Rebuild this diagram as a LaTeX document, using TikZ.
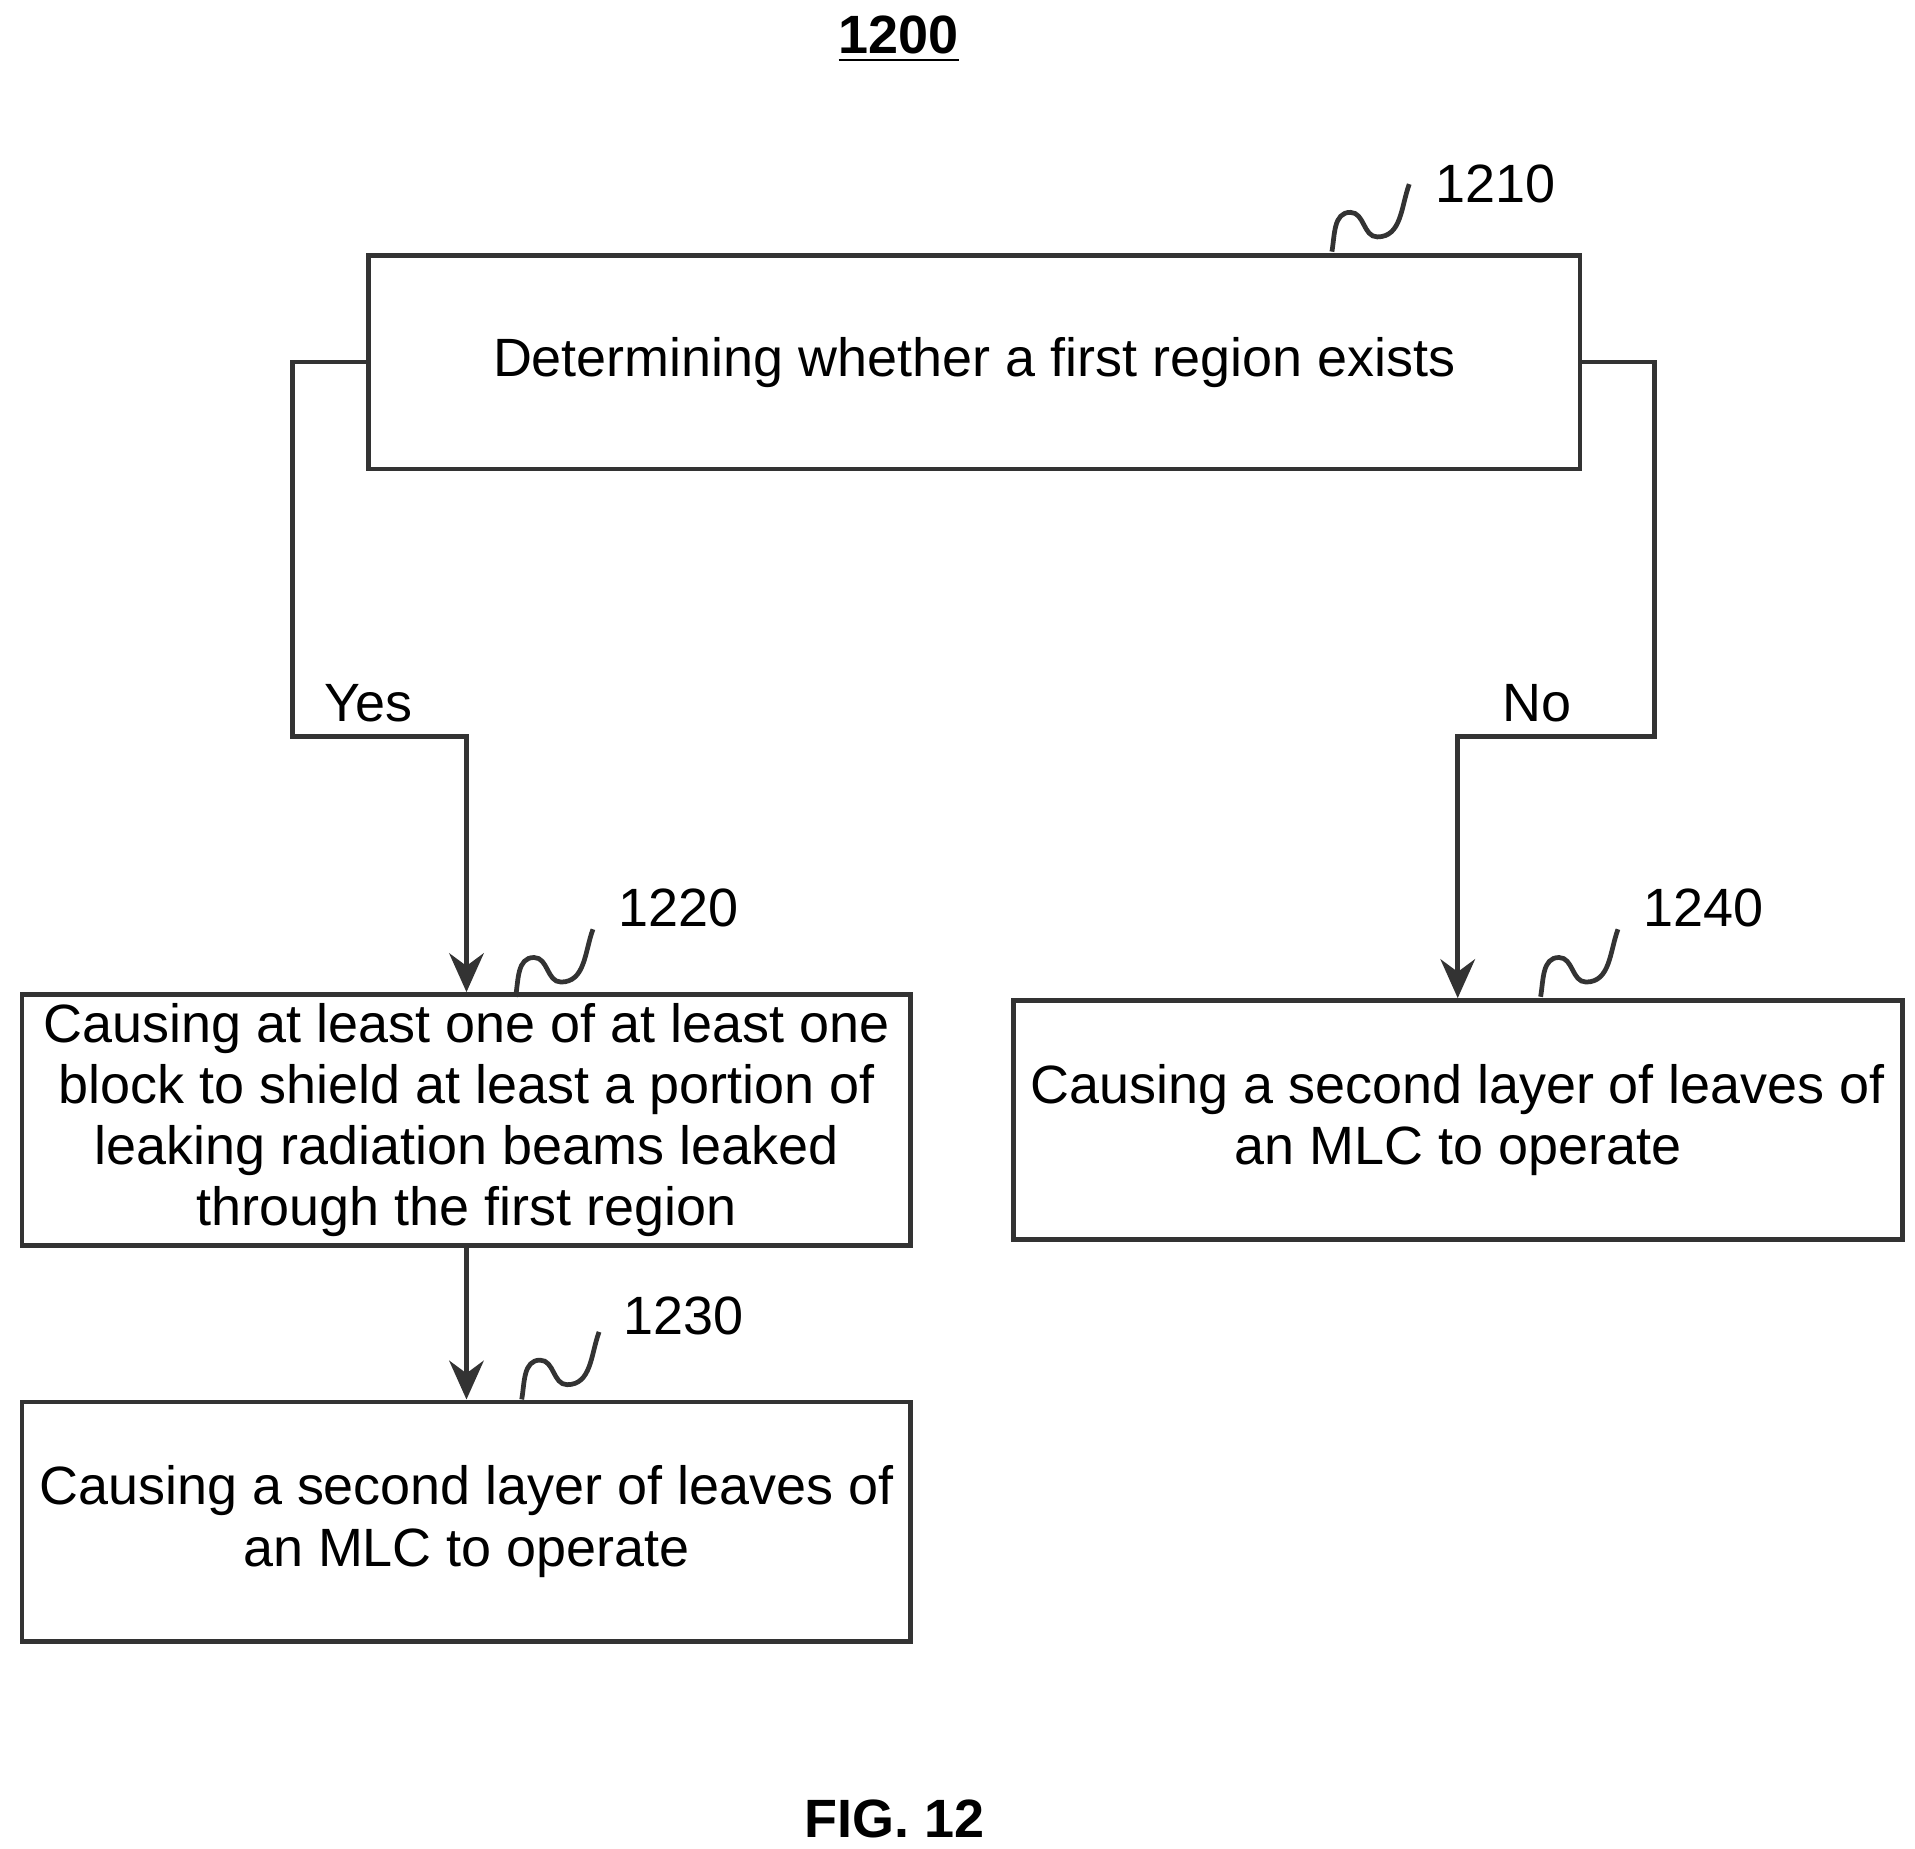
\documentclass[tikz,border=0pt]{standalone}
\usepackage{fontspec}
\setmainfont{Liberation Sans}
\usetikzlibrary{arrows.meta}
\tikzset{
  stepbox/.style={draw=black!80, line width=1.1pt, minimum width=7.24cm, minimum height=1.95cm, align=center, inner sep=2pt, font=\fontsize{12.5}{14.2}\selectfont},
  flow/.style={draw=black!80, line width=1.1pt},
  lab/.style={font=\fontsize{12.5}{14}\selectfont},
  squig/.pic={\draw[black!80, line width=1.1pt] (0,0) to[out=80,in=180] (15,-32) to[out=0,in=180] (37,-12) to[out=0,in=-110] (63,-55);}
}
\begin{document}
\begin{tikzpicture}[x=0.1mm,y=-0.1mm]
  \useasboundingbox (0,0) rectangle (1560,1506);
  \node[font=\bfseries\fontsize{12.5}{14}\selectfont] (title) at (732,32) {\underline{1200}};
  \node[stepbox, minimum width=9.87cm, minimum height=1.74cm] (s1210) at (793.5,295) {Determining whether a first region exists};
  \node[stepbox] (s1220) at (380,912.5) {Causing at least one of at least one\\block to shield at least a portion of\\leaking radiation beams leaked\\through the first region};
  \node[stepbox] (s1230) at (380,1239.5) {Causing a second layer of leaves of\\an MLC to operate};
  \node[stepbox] (s1240) at (1187.5,912.5) {Causing a second layer of leaves of\\an MLC to operate};
  % connectors
  \draw[flow, -{Stealth[length=9pt,width=8pt]}] (s1210.west) -| (238,600) -| (s1220.north);
  \draw[flow, -{Stealth[length=9pt,width=8pt]}] (s1210.east) -| (1348,600) -| (s1240.north);
  \draw[flow, -{Stealth[length=9pt,width=8pt]}] (s1220.south) -- (s1230.north);
  \node[lab] (yes) at (300,573) {Yes};
  \node[lab] (no) at (1252,573) {No};
  % reference numerals
  \pic at (1085,205) {squig};
  \pic at (420,812) {squig};
  \pic at (425,1140) {squig};
  \pic at (1255,812) {squig};
  \node[lab] (n1210) at (1218,150) {1210};
  \node[lab] (n1220) at (553,740) {1220};
  \node[lab] (n1230) at (557,1072) {1230};
  \node[lab] (n1240) at (1388,740) {1240};
  \node[font=\bfseries\fontsize{12.5}{14}\selectfont] (fig) at (729,1482) {FIG. 12};
\end{tikzpicture}
\end{document}
